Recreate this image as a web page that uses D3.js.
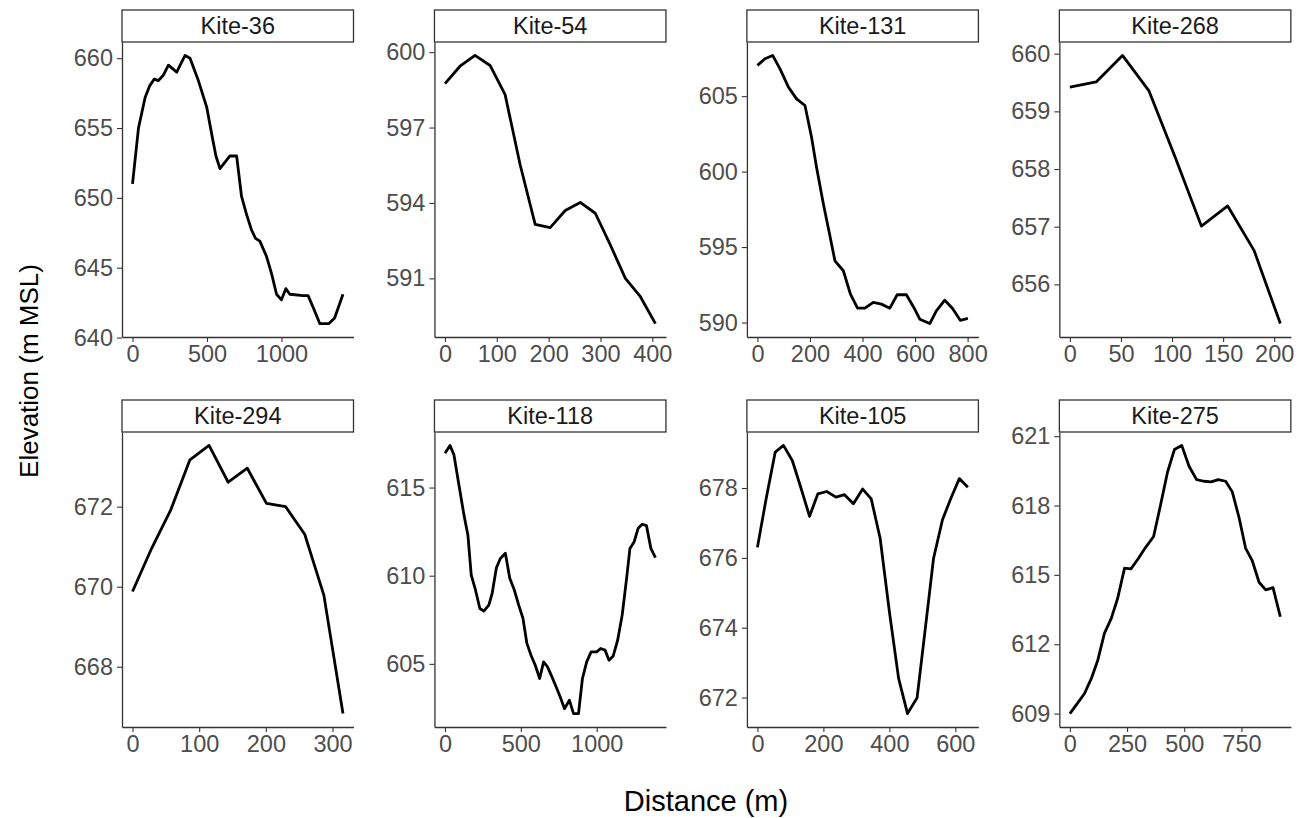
<!DOCTYPE html>
<html>
<head>
<meta charset="utf-8">
<script src="https://cdn.jsdelivr.net/npm/d3@7"></script>
<style>
  body { margin: 0; background: #fff; }
  svg { display: block; font-family: "Liberation Sans", Arial, sans-serif; }
</style>
</head>
<body>
<svg id="chart" width="1304" height="818"></svg>
<script>
// profile data: distance (m) and elevation (m MSL)
var kiteNames = ["Kite-36", "Kite-54", "Kite-131", "Kite-268", "Kite-294", "Kite-118", "Kite-105", "Kite-275"];

var kite36Dist = [0, 40, 85, 114, 145, 174, 208, 241, 297, 324, 353, 386, 442, 498, 531, 560, 587, 654, 699, 732, 766, 799, 826, 855, 900, 933, 967, 1000, 1029, 1056, 1145, 1179, 1223, 1257, 1319, 1357, 1413];
var kite36Elev = [651.0, 655.0, 657.2, 658.0, 658.5, 658.4, 658.8, 659.5, 659.0, 659.6, 660.2, 660.0, 658.4, 656.5, 654.6, 653.0, 652.1, 653.0, 653.0, 650.1, 648.8, 647.7, 647.1, 646.9, 645.8, 644.6, 643.1, 642.7, 643.5, 643.1, 643.0, 643.0, 641.9, 641.0, 641.0, 641.4, 643.1];

var kite54Dist = [0, 29, 58, 87, 116, 145, 174, 203, 232, 261, 290, 319, 348, 377, 406];
var kite54Elev = [598.75, 599.44, 599.87, 599.47, 598.31, 595.52, 593.15, 593.02, 593.70, 594.02, 593.59, 592.33, 591.0, 590.27, 589.2];

var kite131Dist = [0, 29, 58, 86, 118, 149, 181, 206, 225, 251, 272, 295, 327, 354, 381, 409, 441, 472, 504, 532, 567, 599, 618, 656, 681, 713, 742, 772, 801];
var kite131Elev = [607.04, 607.48, 607.70, 606.81, 605.60, 604.82, 604.38, 602.28, 600.29, 597.85, 596.08, 594.09, 593.43, 591.88, 590.95, 590.95, 591.33, 591.22, 590.95, 591.84, 591.84, 590.88, 590.22, 589.93, 590.77, 591.48, 590.95, 590.15, 590.27];

var kite268Dist = [0, 25.75, 51.5, 77.25, 103, 128.75, 154.5, 180.25, 206];
var kite268Elev = [659.42, 659.51, 659.97, 659.36, 658.21, 657.01, 657.36, 656.59, 655.32];

var kite294Dist = [0, 28.7, 57.4, 86.1, 114.8, 143.5, 172.2, 200.9, 229.6, 258.3, 287, 315.7];
var kite294Elev = [669.88, 670.96, 671.92, 673.17, 673.53, 672.61, 672.96, 672.08, 672.0, 671.31, 669.79, 666.83];

var kite118Dist = [0, 33, 59, 92, 125, 151, 173, 201, 230, 256, 289, 311, 339, 365, 398, 427, 457, 486, 514, 540, 567, 595, 624, 650, 676, 705, 733, 759, 788, 820, 847, 880, 906, 934, 963, 1000, 1026, 1055, 1081, 1109, 1138, 1168, 1197, 1219, 1247, 1273, 1300, 1328, 1357, 1387];
var kite118Elev = [616.95, 617.39, 616.86, 615.15, 613.45, 612.31, 610.04, 609.19, 608.14, 607.99, 608.33, 609.0, 610.45, 610.98, 611.27, 609.85, 609.19, 608.33, 607.58, 606.16, 605.49, 604.92, 604.17, 605.11, 604.83, 604.26, 603.69, 603.13, 602.46, 602.94, 602.18, 602.18, 604.17, 605.11, 605.68, 605.68, 605.87, 605.78, 605.21, 605.45, 606.34, 607.77, 609.85, 611.55, 611.93, 612.69, 612.92, 612.84, 611.55, 611.02];

var kite105Dist = [0, 26, 54, 79, 106, 132, 158, 183, 210, 238, 264, 291, 319, 345, 372, 400, 428, 455, 484, 509, 534, 561, 585, 612, 638];
var kite105Elev = [676.30, 677.67, 679.03, 679.22, 678.78, 678.0, 677.19, 677.83, 677.90, 677.74, 677.81, 677.55, 677.97, 677.69, 676.56, 674.46, 672.55, 671.54, 671.99, 673.98, 675.99, 677.09, 677.67, 678.27, 678.02];

var kite275Dist = [0, 32, 64, 94, 122, 151, 181, 209, 239, 267, 300, 329, 366, 395, 427, 457, 489, 521, 554, 586, 617, 649, 681, 710, 740, 768, 797, 827, 856, 888, 920];
var kite275Elev = [609.0, 609.43, 609.87, 610.52, 611.31, 612.47, 613.12, 613.99, 615.29, 615.26, 615.72, 616.16, 616.66, 617.96, 619.45, 620.42, 620.60, 619.70, 619.12, 619.05, 619.02, 619.12, 619.05, 618.59, 617.46, 616.16, 615.62, 614.68, 614.35, 614.45, 613.19];

// tick labels per panel
var xTicks = [[0, 500, 1000], [0, 100, 200, 300, 400], [0, 200, 400, 600, 800], [0, 50, 100, 150, 200],
              [0, 100, 200, 300], [0, 500, 1000], [0, 200, 400, 600], [0, 250, 500, 750]];
var yTicks = [[640, 645, 650, 655, 660], [591, 594, 597, 600], [590, 595, 600, 605], [656, 657, 658, 659, 660],
              [668, 670, 672], [605, 610, 615], [672, 674, 676, 678], [609, 612, 615, 618, 621]];

var dists = [kite36Dist, kite54Dist, kite131Dist, kite268Dist, kite294Dist, kite118Dist, kite105Dist, kite275Dist];
var elevs = [kite36Elev, kite54Elev, kite131Elev, kite268Elev, kite294Elev, kite118Elev, kite105Elev, kite275Elev];

var svg = d3.select("#chart");

var panelLeft = 122, colStep = 312.45, panelW = 231.5;
var plotTops = [42, 432], panelH = 295, stripH = 32;
var tickFont = 23.5;

function expand(ext) {
  var pad = (ext[1] - ext[0]) * 0.05;
  return [ext[0] - pad, ext[1] + pad];
}

kiteNames.forEach(function(name, i) {
  var col = i % 4, row = Math.floor(i / 4);
  var left = panelLeft + col * colStep, top = plotTops[row];
  var pts = dists[i].map(function(d, j) { return {x: d, y: elevs[i][j]}; });

  var x = d3.scaleLinear().domain(expand(d3.extent(dists[i]))).range([0, panelW]);
  var y = d3.scaleLinear().domain(expand(d3.extent(elevs[i]))).range([panelH, 0]);

  var g = svg.append("g").attr("transform", "translate(" + left + "," + top + ")");

  // strip
  g.append("rect")
      .attr("x", 0).attr("y", -stripH)
      .attr("width", panelW).attr("height", stripH)
      .attr("fill", "#fff").attr("stroke", "#333").attr("stroke-width", 1.3);
  g.append("text")
      .attr("x", panelW / 2).attr("y", -stripH / 2)
      .attr("dy", "0.36em")
      .attr("text-anchor", "middle")
      .attr("font-size", tickFont)
      .attr("fill", "#1a1a1a")
      .text(name);

  var xAxis = g.append("g")
      .attr("transform", "translate(0," + panelH + ")")
      .call(d3.axisBottom(x).tickValues(xTicks[i]).tickSize(5).tickSizeOuter(0).tickPadding(3).tickFormat(d3.format("d")));
  var yAxis = g.append("g")
      .call(d3.axisLeft(y).tickValues(yTicks[i]).tickSize(5).tickSizeOuter(0).tickPadding(4).tickFormat(d3.format("d")));

  [xAxis, yAxis].forEach(function(a) {
    a.select(".domain").attr("stroke", "#333").attr("stroke-width", 1.3);
    a.selectAll(".tick line").attr("stroke", "#333").attr("stroke-width", 1.1);
    a.selectAll(".tick text").attr("font-size", tickFont).attr("fill", "#4d4d4d")
        .attr("font-family", "Liberation Sans, Arial, sans-serif");
  });

  g.append("path")
      .datum(pts)
      .attr("fill", "none")
      .attr("stroke", "#000")
      .attr("stroke-width", 2.8)
      .attr("stroke-linejoin", "round")
      .attr("stroke-linecap", "butt")
      .attr("d", d3.line().x(function(d) { return x(d.x); }).y(function(d) { return y(d.y); }));
});

// axis titles
svg.append("text")
    .attr("x", 706).attr("y", 811)
    .attr("text-anchor", "middle")
    .attr("font-size", 29)
    .attr("fill", "#000")
    .text("Distance (m)");

svg.append("text")
    .attr("transform", "translate(38,371) rotate(-90)")
    .attr("text-anchor", "middle")
    .attr("font-size", 26)
    .attr("fill", "#000")
    .text("Elevation (m MSL)");
</script>
</body>
</html>
